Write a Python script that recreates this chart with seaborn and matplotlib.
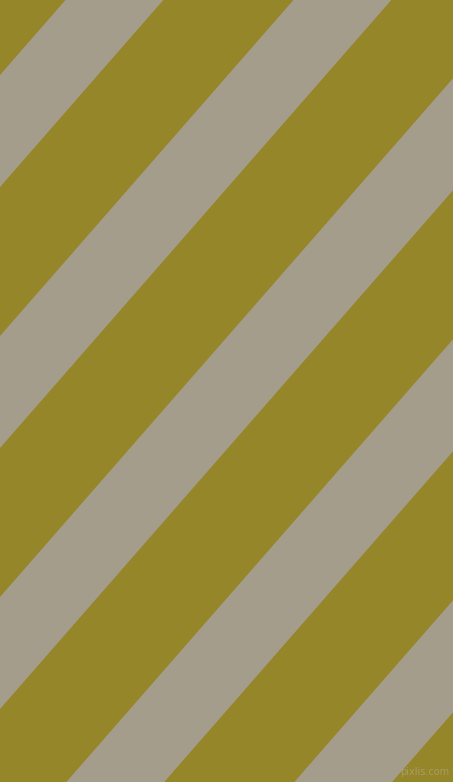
import numpy as np
import matplotlib
matplotlib.use("Agg")
import matplotlib.pyplot as plt
import seaborn as sns

sns.set_theme(style="white")

# stripe data (pixel units of the 453x782 canvas)
canvas_w = 453
canvas_h = 782
stripe_starts = [75, 336, 597, 858, 1119, 1380, -186]   # intercepts on left edge
stripe_width = 112
stripe_slope = 1.145
olive = "#958629"
gray = "#a59d8b"

fig = plt.figure(figsize=(canvas_w / 100, canvas_h / 100), dpi=100)
ax = fig.add_axes([0, 0, 1, 1])
ax.set_facecolor(olive)
fig.patch.set_facecolor(olive)

x = np.array([0.0, canvas_w])
for s in stripe_starts:
    ax.fill_between(x, s - stripe_slope * x, s + stripe_width - stripe_slope * x,
                    color=gray, linewidth=0)

ax.text(449, 772, "pixlis.com", ha="right", va="center", fontsize=7,
        color="#b5ad8f", alpha=0.6)

ax.set_xlim(0, canvas_w)
ax.set_ylim(canvas_h, 0)
ax.axis("off")
fig.savefig("out.png", dpi=100, facecolor=olive)
